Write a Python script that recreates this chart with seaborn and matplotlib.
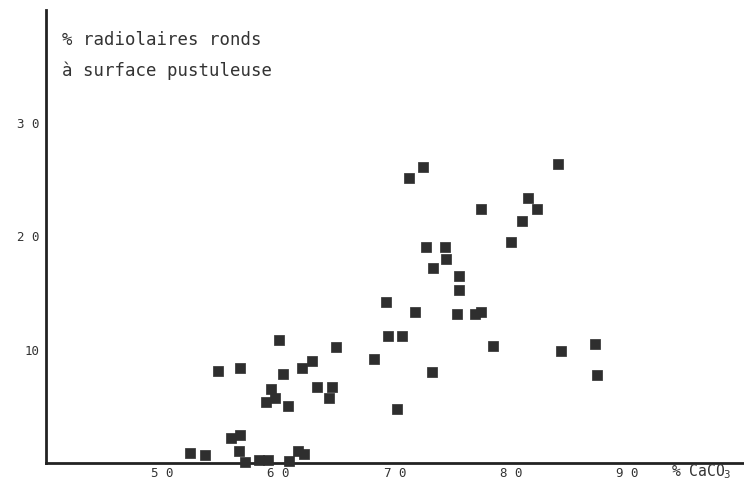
import matplotlib
matplotlib.use("Agg")
import matplotlib.pyplot as plt
import seaborn as sns
import pandas as pd

caco3 = [52.4, 53.7, 54.8, 55.9, 56.7, 56.6, 56.7, 57.1, 58.3, 59.1,
         60.0, 59.3, 58.9, 59.7, 60.4, 60.8, 60.9, 61.7, 62.2, 62.0,
         62.9, 63.3, 64.6, 64.3, 64.9, 68.2, 69.2, 69.4, 70.6, 70.2,
         71.2, 72.4, 71.7, 72.7, 73.3, 73.2, 74.3, 74.4, 75.5, 75.5,
         75.3, 76.9, 77.4, 77.4, 78.4, 80.0, 80.9, 81.4, 82.2, 84.0,
         84.3, 87.2, 87.4]
radiolaires = [0.9, 0.7, 8.1, 2.2, 2.5, 1.1, 8.4, 0.1, 0.3, 0.3,
               10.9, 6.5, 5.4, 5.7, 7.9, 5.0, 0.2, 1.1, 0.8, 8.4,
               9.0, 6.7, 6.7, 5.7, 10.2, 9.2, 14.2, 11.2, 11.2, 4.8,
               25.2, 26.1, 13.3, 19.1, 17.2, 8.0, 19.1, 18.0, 16.5, 15.3,
               13.2, 13.2, 13.3, 22.4, 10.3, 19.5, 21.4, 23.4, 22.4, 26.4,
               9.9, 10.5, 7.8]

x_ticks = [50, 60, 70, 80, 90]
x_labels = ["5 0", "6 0", "7 0", "8 0", "9 0"]
y_ticks = [10, 20, 30]
y_labels = ["10", "2 0", "3 0"]

df = pd.DataFrame({"caco3": caco3, "rad": radiolaires})

sns.set_style("white")
plt.rcParams["font.family"] = ["DejaVu Sans Mono", "DejaVu Sans"]

ink = "#222222"
fig = plt.figure(figsize=(7.44, 4.84), dpi=100)
ax = fig.add_axes([46 / 744, 21 / 484, 698 / 744, 453 / 484])

sns.scatterplot(data=df, x="caco3", y="rad", marker="s", s=50,
                color="#2e2e2e", edgecolor="#2e2e2e", linewidth=0.5,
                ax=ax, clip_on=False, zorder=3)

ax.set_xlim(40, 100)
ax.set_ylim(0, 40)
sns.despine(ax=ax, top=True, right=True)
for side in ["left", "bottom"]:
    ax.spines[side].set_linewidth(2.0)
    ax.spines[side].set_color(ink)

ax.set_xticks(x_ticks)
ax.set_xticklabels(x_labels)
ax.set_yticks(y_ticks)
ax.set_yticklabels(y_labels)
ax.tick_params(axis="both", direction="in", length=5, width=1.5,
               color=ink, labelsize=9, labelcolor="#333333")
ax.tick_params(axis="x", pad=3)
ax.tick_params(axis="y", pad=5)
ax.set_xlabel("")
ax.set_ylabel("")

fig.text(671 / 744, 1 - 472 / 484, "% CaCO$_3$", ha="left",
         va="center", fontsize=10.5, color="#333333")
fig.text(62 / 744, 1 - 40 / 484, "% radiolaires ronds", ha="left",
         va="center", fontsize=12.5, color="#333333")
fig.text(62 / 744, 1 - 71 / 484, "à surface pustuleuse", ha="left",
         va="center", fontsize=12.5, color="#333333")

fig.savefig("out.png", dpi=100, facecolor="white")
